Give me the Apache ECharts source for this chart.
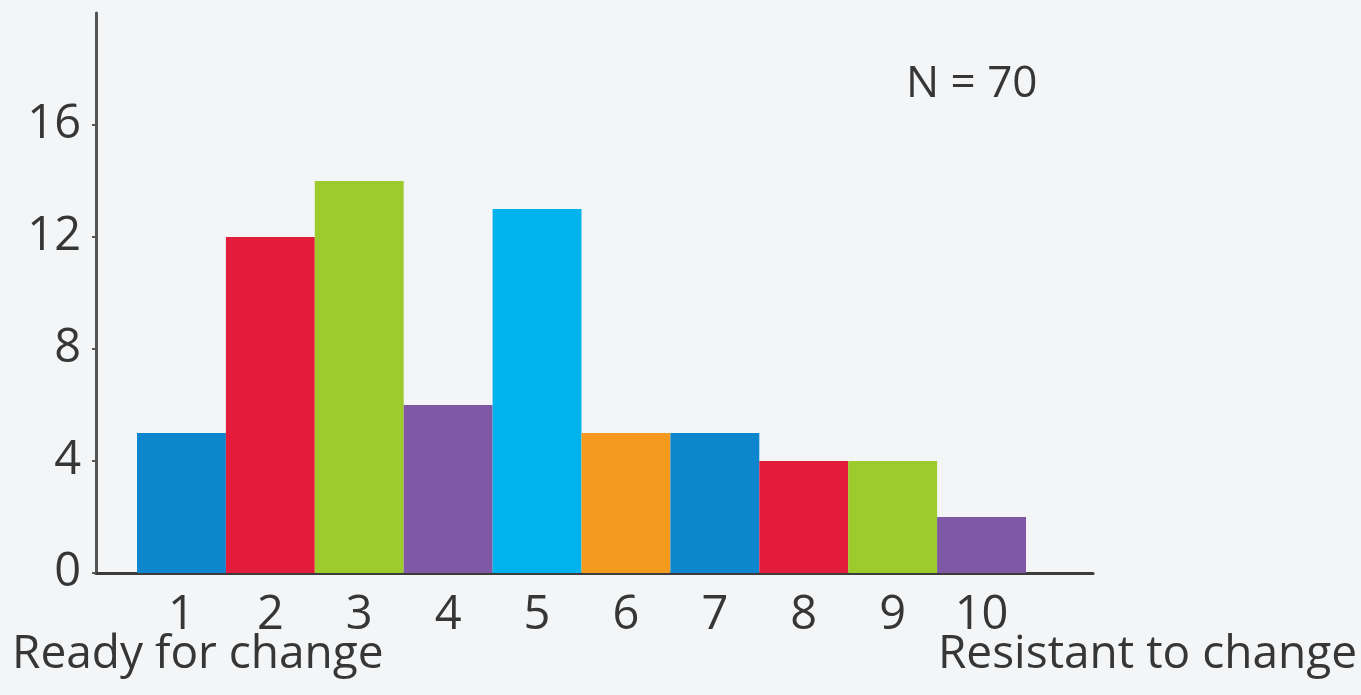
<!DOCTYPE html>
<html>
<head>
<meta charset="utf-8">
<script src="https://cdn.jsdelivr.net/npm/echarts@6/dist/echarts.min.js"></script>
<style>
  html, body { margin: 0; padding: 0; background: #f3f5f7; }
  #chart { width: 1361px; height: 695px; }
</style>
</head>
<body>
<div id="chart"></div>
<script>
const categories = ['1', '2', '3', '4', '5', '6', '7', '8', '9', '10'];
const counts = [5, 12, 14, 6, 13, 5, 5, 4, 4, 2];
const barColors = ['#0d86cd', '#e41c3c', '#9ccb2b', '#7f58a6', '#01b3ec', '#f39a1f', '#0d86cd', '#e41c3c', '#9ccb2b', '#7f58a6'];
const yTicks = [0, 4, 8, 12, 16];

(function() {
  let myChart = echarts.init(document.getElementById('chart'));
  const font = '"Open Sans", "Noto Sans", sans-serif';
  let option = {
    backgroundColor: '#f3f5f7',
    animation: false,
    grid: [
      // bars
      { left: 137, right: 335, top: 13, bottom: 122 },
      // only for the longer x axis line
      { left: 96, right: 268, top: 13, bottom: 122 }
    ],
    xAxis: [
      {
        type: 'category',
        gridIndex: 0,
        data: categories,
        axisLine: { show: false },
        axisTick: { show: false },
        axisLabel: {
          color: '#363636',
          fontFamily: font,
          fontSize: 47,
          margin: 19
        }
      },
      {
        type: 'value',
        gridIndex: 1,
        min: 0,
        max: 1,
        axisLine: { show: true, lineStyle: { color: '#3c3c3c', width: 3 } },
        axisTick: { show: false },
        axisLabel: { show: false },
        splitLine: { show: false }
      }
    ],
    yAxis: [
      {
        type: 'value',
        gridIndex: 0,
        min: 0,
        max: 20,
        interval: 4,
        offset: 41,
        axisLine: { show: true, lineStyle: { color: '#555', width: 3 } },
        axisTick: {
          show: true,
          length: 4,
          customValues: yTicks,
          lineStyle: { color: '#555', width: 2 }
        },
        axisLabel: {
          customValues: yTicks,
          color: '#363636',
          fontFamily: font,
          fontSize: 47,
          margin: 15
        },
        splitLine: { show: false }
      },
      {
        type: 'value',
        gridIndex: 1,
        show: false
      }
    ],
    series: [
      {
        type: 'bar',
        xAxisIndex: 0,
        yAxisIndex: 0,
        data: counts,
        barCategoryGap: '0%',
        z: 3,
        itemStyle: {
          color: function(params) {
            return barColors[params.dataIndex];
          }
        }
      }
    ],
    graphic: [
      {
        type: 'text', left: 12, top: 632,
        style: { text: 'Ready for change', fontFamily: font, fontSize: 46, fill: '#363636' }
      },
      {
        type: 'text', right: 4, top: 632,
        style: { text: 'Resistant to change', fontFamily: font, fontSize: 46, fill: '#363636' }
      },
      {
        type: 'text', left: 906, top: 62,
        style: { text: 'N = 70', fontFamily: font, fontSize: 44, fill: '#363636' }
      }
    ]
  };
  myChart.setOption(option);
  window.addEventListener('resize', function() {
    myChart.resize();
  });
})();
</script>
</body>
</html>
